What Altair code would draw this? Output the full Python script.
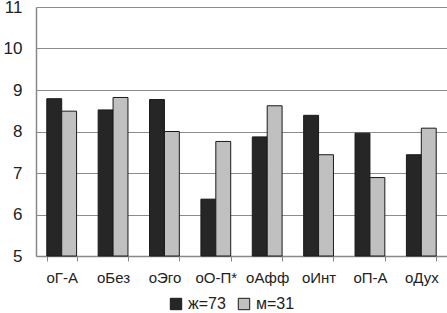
import altair as alt
import pandas as pd

categories = ["оГ-А", "оБез", "оЭго", "оО-П*", "оАфф", "оИнт", "оП-А", "оДух"]
series_names = ["ж=73", "м=31"]
women = [8.79, 8.52, 8.77, 6.37, 7.87, 8.39, 7.96, 7.44]
men = [8.49, 8.82, 8.00, 7.76, 8.62, 7.44, 6.89, 8.08]

rows = []
for c, w, m in zip(categories, women, men):
    rows.append({"cat": c, "series": series_names[0], "value": w})
    rows.append({"cat": c, "series": series_names[1], "value": m})
df = pd.DataFrame(rows)

FONT = "Liberation Sans"

chart = alt.Chart(df).mark_bar(stroke="#1a1a1a", strokeWidth=1).encode(
    x=alt.X("cat:N", sort=categories, title=None,
            scale=alt.Scale(paddingInner=0.42, paddingOuter=0.21),
            axis=alt.Axis(labelAngle=0, labelFontSize=15, labelColor="#222222",
                          labelFont=FONT, labelPadding=9, tickBand="extent",
                          tickColor="#888888", tickSize=5, domainColor="#888888",
                          domainWidth=1.5)),
    xOffset=alt.XOffset("series:N", sort=series_names),
    y=alt.Y("value:Q", title=None,
            scale=alt.Scale(domain=[5, 11], zero=False, nice=False),
            axis=alt.Axis(values=[5, 6, 7, 8, 9, 10, 11], labelFontSize=17,
                          labelFont=FONT, labelColor="#222222", labelPadding=14,
                          ticks=False, gridColor="#8c8c8c", gridWidth=1,
                          domainColor="#888888", domainWidth=1.5)),
    y2=alt.datum(5),
    color=alt.Color("series:N", sort=series_names,
                    scale=alt.Scale(domain=series_names, range=["#262626", "#c0c0c0"]),
                    legend=alt.Legend(title=None, orient="none", legendX=132, legendY=289,
                                      direction="horizontal",
                                      symbolType="square", symbolSize=130,
                                      symbolStrokeColor="#1a1a1a", symbolStrokeWidth=1,
                                      labelFontSize=16, labelFont=FONT, labelColor="#222222",
                                      columnPadding=10, labelOffset=4)),
).properties(
    width=411, height=249,
    autosize=alt.AutoSizeParams(type="none"),
    padding={"left": 36, "top": 7, "right": 0, "bottom": 57},
).configure_view(stroke=None).configure_axis(labelBound=False)

chart.save("out.html", embed_options={"renderer": "svg", "actions": False})
